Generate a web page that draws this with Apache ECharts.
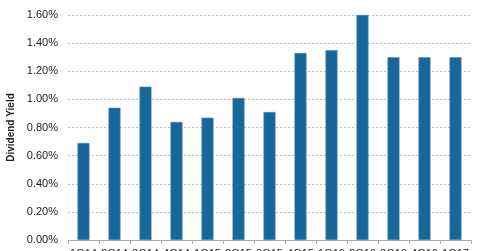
<!DOCTYPE html>
<html>
<head>
<meta charset="utf-8">
<script src="https://cdn.jsdelivr.net/npm/echarts@6/dist/echarts.min.js"></script>
<style>html,body{margin:0;padding:0;background:#fff;}#c{width:480px;height:251px;}</style>
</head>
<body>
<div id="c"></div>
<script>
var categories = ["1Q14","2Q14","3Q14","4Q14","1Q15","2Q15","3Q15","4Q15","1Q16","2Q16","3Q16","4Q16","1Q17"];
var yieldValues = [0.69, 0.94, 1.09, 0.84, 0.87, 1.01, 0.91, 1.33, 1.35, 1.60, 1.30, 1.30, 1.30];
var yTicks = [0, 0.2, 0.4, 0.6, 0.8, 1.0, 1.2, 1.4, 1.6];
var yAxisName = "Dividend Yield";

var chart = echarts.init(document.getElementById('c'), null, {renderer:'canvas'});
chart.setOption({
  animation: false,
  grid: {left: 68, right: 9, top: 15, bottom: 11, containLabel: false, outerBoundsMode: 'none'},
  xAxis: {
    type: 'category',
    data: categories,
    boundaryGap: true,
    axisLine: {lineStyle: {color: '#aaa', width: 1}},
    axisTick: {show: true, length: 4, lineStyle: {color: '#aaa'}, alignWithLabel: false, interval: 0},
    axisLabel: {interval: 0, margin: 8, color: '#222', fontSize: 11, fontFamily: 'Liberation Sans, Arial, sans-serif'}
  },
  yAxis: {
    type: 'value',
    min: yTicks[0],
    max: yTicks[yTicks.length - 1],
    interval: 0.2,
    name: yAxisName,
    nameLocation: 'middle',
    nameGap: 50,
    nameRotate: 90,
    nameTextStyle: {fontSize: 10, fontWeight: 'bold', color: '#222', fontFamily: 'Liberation Sans, Arial, sans-serif'},
    axisLine: {show: false},
    axisTick: {show: false},
    axisLabel: {
      margin: 10,
      color: '#222',
      fontSize: 11,
      fontFamily: 'Liberation Sans, Arial, sans-serif',
      formatter: function (v) { return v.toFixed(2) + '%'; }
    },
    splitLine: {show: true, lineStyle: {color: '#bbb', type: [2, 2], width: 1}}
  },
  series: [{
    type: 'bar',
    data: yieldValues,
    barWidth: 12,
    itemStyle: {color: '#17679A', borderColor: '#4d88b5', borderWidth: 0.6}
  }]
});
</script>
</body>
</html>
